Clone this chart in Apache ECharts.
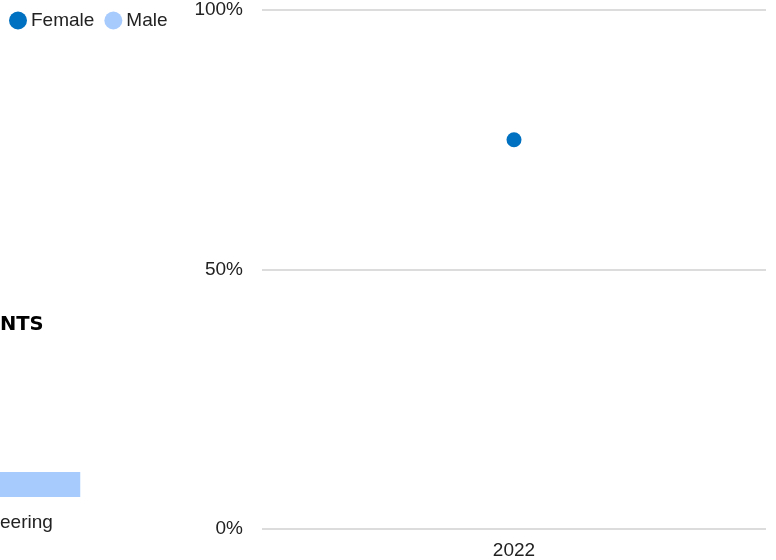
<!DOCTYPE html>
<html>
<head>
<meta charset="utf-8">
<script src="https://cdn.jsdelivr.net/npm/echarts@6/dist/echarts.min.js"></script>
<style>html,body{margin:0;padding:0;background:#fff}#c{width:776px;height:560px}</style>
</head>
<body>
<div id="c"></div>
<script>
var years = ['2022'];
var femaleShare = [75];
var maleShare = [null];
var yTicks = [0, 50, 100];
var barCategories = ['Engineering'];
var barMale = [75];

var chart = echarts.init(document.getElementById('c'), null, {renderer: 'canvas'});
var font = 'Liberation Sans, Arial, sans-serif';
chart.setOption({
  animation: false,
  textStyle: {fontFamily: font},
  legend: {
    left: 4, top: 6, padding: 5, icon: 'circle', itemWidth: 18, itemHeight: 18, itemGap: 10,
    textStyle: {fontSize: 19, color: '#222', fontFamily: font, padding: [0, 0, 0, -1]},
    data: ['Female', 'Male']
  },
  graphic: [
    {type: 'text', left: 0, top: 315, style: {text: 'NTS', fontSize: 19.5, fontWeight: 'bold', fontFamily: 'DejaVu Sans', fill: '#000'}},
    {type: 'text', left: 0, top: 513, style: {text: 'eering', fontSize: 19, fontFamily: font, fill: '#222'}}
  ],
  grid: [
    {left: 262, right: 10, top: 10, bottom: 30},
    {left: 0, width: 107, top: 472, height: 25}
  ],
  xAxis: [
    {type: 'category', gridIndex: 0, data: years, axisLine: {show: false}, axisTick: {show: false},
     axisLabel: {fontSize: 19, color: '#222', margin: 12, fontFamily: font}},
    {type: 'value', gridIndex: 1, min: 0, max: 100, show: false}
  ],
  yAxis: [
    {type: 'value', gridIndex: 0, min: yTicks[0], max: yTicks[yTicks.length - 1], interval: 50,
     axisLabel: {formatter: '{value}%', fontSize: 19, color: '#222', margin: 19, fontFamily: font},
     splitLine: {lineStyle: {color: '#d0d0d0', width: 1.5}}, axisLine: {show: false}, axisTick: {show: false}},
    {type: 'category', gridIndex: 1, data: barCategories, show: false}
  ],
  series: [
    {name: 'Female', type: 'scatter', xAxisIndex: 0, yAxisIndex: 0, data: femaleShare, symbolSize: 15,
     itemStyle: {color: '#0070c0', opacity: 1}},
    {name: 'Male', type: 'scatter', xAxisIndex: 0, yAxisIndex: 0, data: maleShare, symbolSize: 15,
     itemStyle: {color: '#a8cbfd', opacity: 1}},
    {name: 'Male', type: 'bar', xAxisIndex: 1, yAxisIndex: 1, data: barMale, barWidth: 25,
     itemStyle: {color: '#a8cbfd', opacity: 1}}
  ]
});
</script>
</body>
</html>
